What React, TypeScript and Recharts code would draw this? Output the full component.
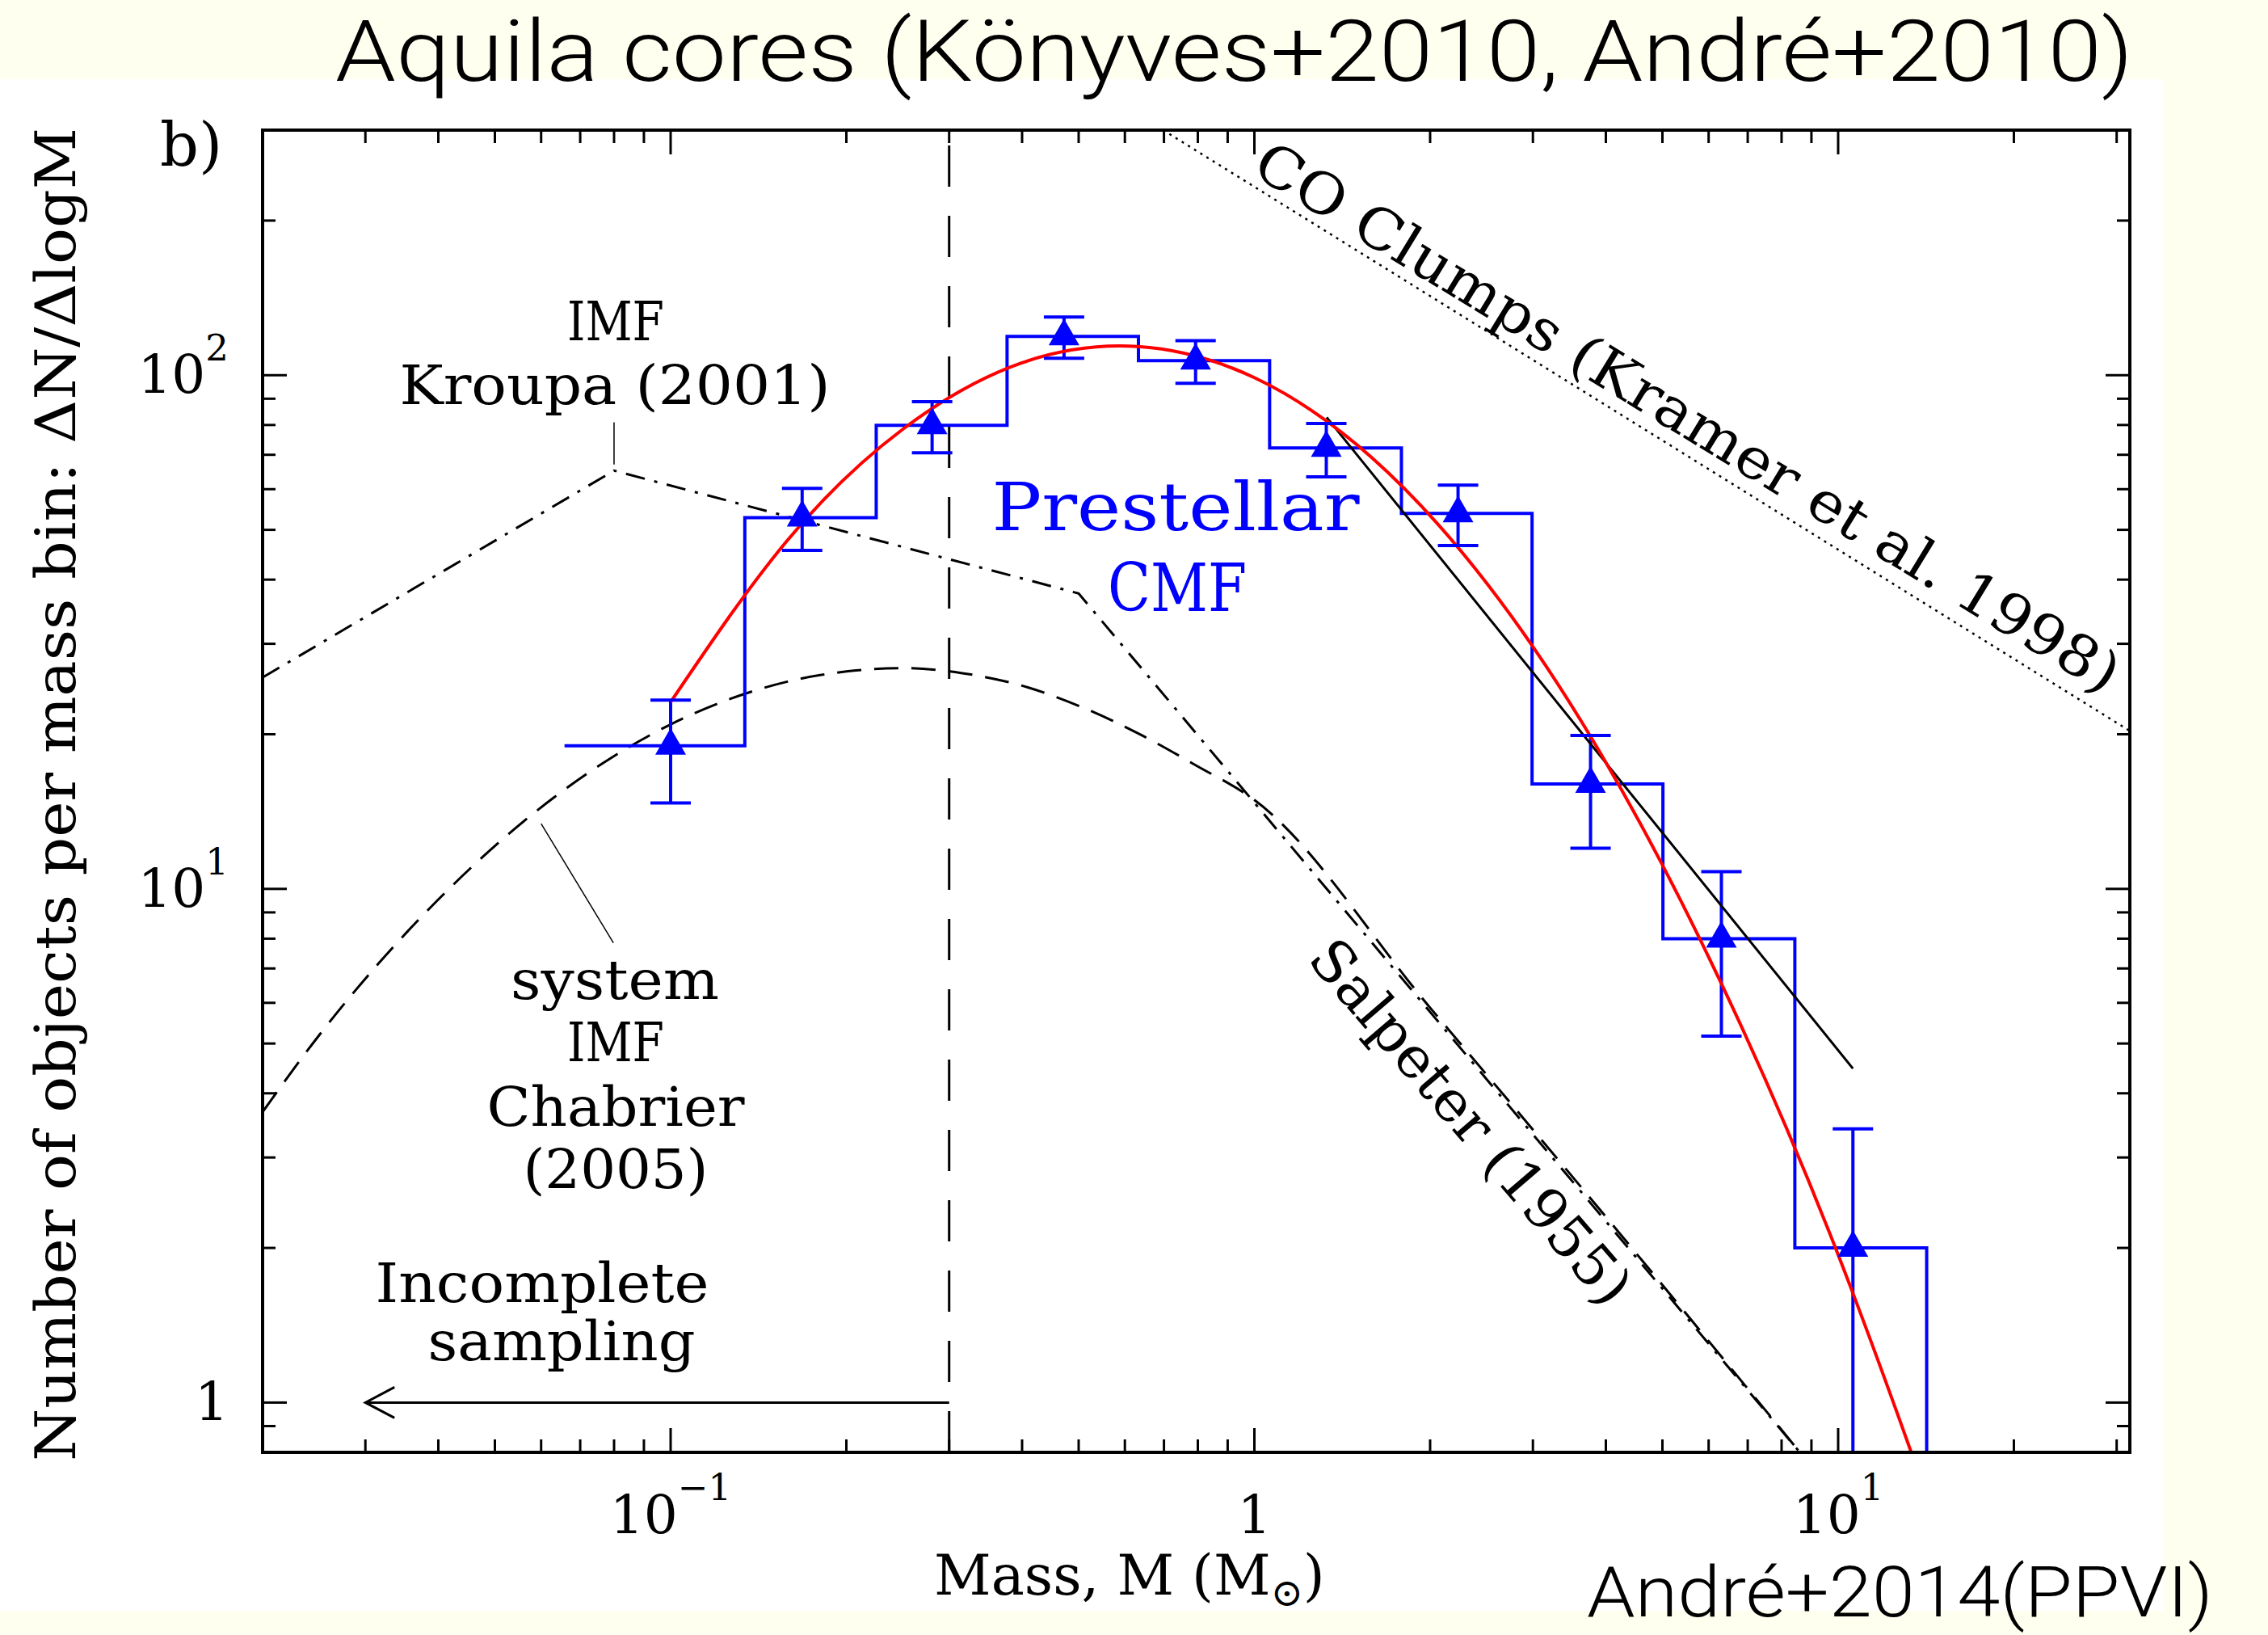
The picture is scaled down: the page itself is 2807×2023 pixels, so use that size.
import React from 'react';
import { ComposedChart, Line, Scatter, XAxis, YAxis, ReferenceLine } from 'recharts';

const W = 2807;
const H = 2023;
const SERIF = '"DejaVu Serif", serif';
const SANS = 'Roboto, "Liberation Sans", sans-serif';

// axis ticks
const xMajor = [0.1, 1, 10];
const xMinor = [0.03, 0.04, 0.05, 0.06, 0.07, 0.08, 0.09, 0.2, 0.3, 0.4, 0.5, 0.6, 0.7, 0.8, 0.9, 2, 3, 4, 5, 6, 7, 8, 9, 20, 30];
const yMajor = [1, 10, 100];
const yMinor = [0.9, 2, 3, 4, 5, 6, 7, 8, 9, 20, 30, 40, 50, 60, 70, 80, 90, 200];
const xTickLabels: Record<string, [string, string]> = { '0.1': ['10', '\u22121'], '1': ['1', ''], '10': ['10', '1'] };
const yTickLabels: Record<string, [string, string]> = { '1': ['1', ''], '10': ['10', '1'], '100': ['10', '2'] };

// prestellar CMF histogram
const binEdges = [0.0658, 0.134, 0.225, 0.377, 0.633, 1.062, 1.786, 2.99, 5.01, 8.43, 14.18, 21.4];
const binValues = [19.0, 52.8, 79.9, 119, 106.7, 72.2, 53.8, 16.0, 8.0, 2.0, 0.8];

// triangles with error bars
const coreMass = [0.1, 0.168, 0.2805, 0.472, 0.793, 1.328, 2.233, 3.766, 6.31, 10.6];
const coreValue = [19.0, 52.8, 79.9, 119, 106.7, 72.2, 53.8, 16.0, 8.0, 2.0];
const errLow = [14.7, 45.6, 70.6, 107.9, 96.4, 63.4, 46.6, 12.0, 5.17, 0.5];
const errHigh = [23.3, 60.2, 88.8, 129.8, 116.8, 80.5, 61.1, 19.9, 10.8, 3.41];

// lognormal fit (red)
const fitMass = [0.1, 0.158, 0.251, 0.398, 0.631, 1, 1.585, 2.512, 3.981, 6.31, 10, 15.85];
const fitValue = [23.1, 47.5, 78.8, 105.5, 113.7, 98.9, 69.3, 39.1, 17.8, 6.54, 1.94, 0.46];

// power-law fit (black)
const plMass = [1.33, 10.6];
const plValue = [82.8, 4.47];

// CO clumps (Kramer et al. 1998)
const coMass = [0.698, 31.6];
const coValue = [300, 20.3];

// Kroupa (2001) IMF
const kroupaMass = [0.02, 0.08, 0.5, 8.6];
const kroupaValue = [25.8, 65.2, 37.6, 0.8];

// Chabrier (2005) system IMF
const chabMass = [0.02, 0.0251, 0.0316, 0.0398, 0.0501, 0.0631, 0.0794, 0.1, 0.126, 0.158, 0.2, 0.251, 0.316, 0.398, 0.501, 0.631, 0.794, 1, 2, 4, 8.6];
const chabValue = [3.68, 5.22, 7.16, 9.48, 12.15, 15.06, 18.04, 20.9, 23.4, 25.3, 26.5, 26.9, 26.3, 24.9, 22.7, 20.1, 17.4, 14.9, 5.87, 2.3, 0.8];

// label pointers and completeness limit
const kroupaPtrMass = [0.08, 0.08];
const kroupaPtrValue = [67, 81];
const chabPtrMass = [0.06, 0.0798];
const chabPtrValue = [13.4, 7.85];
const arrowMass = [0.03, 0.3];
const arrowValue = [1, 1];
const completeness = 0.3;

const pts = (ms: number[], vs: number[]) => ms.map((m, i) => ({ m, v: vs[i] }));

const histData = [
  ...binValues.map((v, i) => ({ m: binEdges[i], v })),
  { m: binEdges[binEdges.length - 1], v: binValues[binValues.length - 1] },
];
const coreData = pts(coreMass, coreValue);
const errData = coreMass.map((m, i) => [
  { m, v: errLow[i] },
  { m, v: errHigh[i] },
]);

function BottomTick({ x, y, payload }: any) {
  const v = payload.value;
  const major = xMajor.includes(v);
  const lab = xTickLabels[String(v)];
  return (
    <g>
      <line x1={x} y1={y} x2={x} y2={y - (major ? 30 : 16)} stroke="#000" strokeWidth={3} />
      {lab && (
        <text x={x} y={y + 100} textAnchor="middle" fontFamily={SERIF} fontSize={66} fill="#000">
          {lab[0]}
          {lab[1] && <tspan dy={-41} fontSize={45}>{lab[1]}</tspan>}
        </text>
      )}
    </g>
  );
}

function TopTick({ x, y, payload }: any) {
  const major = xMajor.includes(payload.value);
  return <line x1={x} y1={y} x2={x} y2={y + (major ? 30 : 16)} stroke="#000" strokeWidth={3} />;
}

function LeftTick({ x, y, payload }: any) {
  const v = payload.value;
  const major = yMajor.includes(v);
  const lab = yTickLabels[String(v)];
  return (
    <g>
      <line x1={x} y1={y} x2={x + (major ? 30 : 16)} y2={y} stroke="#000" strokeWidth={3} />
      {lab && (
        <text x={x - 42} y={y + 22} textAnchor="end" fontFamily={SERIF} fontSize={66} fill="#000">
          {lab[0]}
          {lab[1] && <tspan dy={-40} fontSize={45}>{lab[1]}</tspan>}
        </text>
      )}
    </g>
  );
}

function RightTick({ x, y, payload }: any) {
  const major = yMajor.includes(payload.value);
  return <line x1={x} y1={y} x2={x - (major ? 30 : 16)} y2={y} stroke="#000" strokeWidth={3} />;
}

const Triangle = ({ cx, cy }: any) => (
  <polygon points={`${cx},${cy - 22} ${cx - 19},${cy + 11} ${cx + 19},${cy + 11}`} fill="#0000ff" />
);

const Cap = (p: any) => (
  <line key={`cap${p.index}`} x1={p.cx - 25} x2={p.cx + 25} y1={p.cy} y2={p.cy} stroke="#0000ff" strokeWidth={4} />
);

const ArrowHead = (p: any) =>
  p.index === 0 ? (
    <path key="head" d={`M${p.cx + 36},${p.cy - 19} L${p.cx},${p.cy} L${p.cx + 36},${p.cy + 19}`} fill="none" stroke="#000" strokeWidth={3} />
  ) : (
    <g key={`n${p.index}`} />
  );

const T = ({ x, y, size = 67, color = '#000', anchor = 'middle', len, children, ...rest }: any) => (
  <text x={x} y={y} fontFamily={SERIF} fontSize={size} fill={color} textAnchor={anchor}
    {...(len ? { textLength: len, lengthAdjust: 'spacingAndGlyphs' } : {})} {...rest}>
    {children}
  </text>
);

export default function App() {
  const axisLine = { stroke: '#000', strokeWidth: 4, strokeLinecap: 'square' as const };
  return (
    <div style={{ position: 'absolute', left: 0, top: 0, width: W, height: H, background: '#fffff0', overflow: 'hidden' }}>
      <div style={{ position: 'absolute', left: 0, top: 98, width: 2677, height: 1895, background: '#ffffff' }} />
      <div style={{ position: 'absolute', left: 0, top: 0 }}>
        <ComposedChart width={W} height={H} margin={{ left: 225, right: 151, top: 141, bottom: 126 }}>
          <XAxis xAxisId={0} type="number" dataKey="m" scale="log" domain={[0.02, 31.6]} allowDataOverflow
            ticks={[...xMajor, ...xMinor]} interval={0} tick={<BottomTick />} tickLine={false} tickSize={0} tickMargin={0}
            axisLine={axisLine} height={100} />
          <XAxis xAxisId="top" orientation="top" type="number" dataKey="m" scale="log" domain={[0.02, 31.6]} allowDataOverflow
            ticks={[...xMajor, ...xMinor]} interval={0} tick={<TopTick />} tickLine={false} tickSize={0} tickMargin={0}
            axisLine={axisLine} height={20} />
          <YAxis yAxisId={0} type="number" dataKey="v" scale="log" domain={[0.8, 300]} allowDataOverflow
            ticks={[...yMajor, ...yMinor]} interval={0} tick={<LeftTick />} tickLine={false} tickSize={0} tickMargin={0}
            axisLine={axisLine} width={100} />
          <YAxis yAxisId="right" orientation="right" type="number" dataKey="v" scale="log" domain={[0.8, 300]} allowDataOverflow
            ticks={[...yMajor, ...yMinor]} interval={0} tick={<RightTick />} tickLine={false} tickSize={0} tickMargin={0}
            axisLine={axisLine} width={20} />

          <ReferenceLine x={completeness} stroke="#000" strokeWidth={3} strokeDasharray="51 36" ifOverflow="hidden" />

          <Line data={pts(kroupaMass, kroupaValue)} dataKey="v" type="linear" stroke="#000" strokeWidth={3}
            strokeDasharray="24 12 4 12" dot={false} activeDot={false} isAnimationActive={false} />
          <Line data={pts(chabMass, chabValue)} dataKey="v" type="monotone" stroke="#000" strokeWidth={3}
            strokeDasharray="30 16" dot={false} activeDot={false} isAnimationActive={false} />
          <Line data={pts(coMass, coValue)} dataKey="v" type="linear" stroke="#000" strokeWidth={2.5}
            strokeDasharray="3 6" dot={false} activeDot={false} isAnimationActive={false} />
          <Line data={pts(kroupaPtrMass, kroupaPtrValue)} dataKey="v" type="linear" stroke="#000" strokeWidth={1.5}
            dot={false} activeDot={false} isAnimationActive={false} />
          <Line data={pts(chabPtrMass, chabPtrValue)} dataKey="v" type="linear" stroke="#000" strokeWidth={1.5}
            dot={false} activeDot={false} isAnimationActive={false} />
          <Line data={pts(arrowMass, arrowValue)} dataKey="v" type="linear" stroke="#000" strokeWidth={3}
            dot={ArrowHead} activeDot={false} isAnimationActive={false} />

          <Line data={histData} dataKey="v" type="stepAfter" stroke="#0000ff" strokeWidth={4}
            dot={false} activeDot={false} isAnimationActive={false} />
          {errData.map((d, i) => (
            <Line key={`err${i}`} data={d} dataKey="v" type="linear" stroke="#0000ff" strokeWidth={4}
              dot={Cap} activeDot={false} isAnimationActive={false} />
          ))}
          <Scatter data={coreData} dataKey="v" shape={<Triangle />} isAnimationActive={false} />

          <Line data={pts(plMass, plValue)} dataKey="v" type="linear" stroke="#000" strokeWidth={3}
            dot={false} activeDot={false} isAnimationActive={false} />
          <Line data={pts(fitMass, fitValue)} dataKey="v" type="natural" stroke="#ff0000" strokeWidth={4}
            dot={false} activeDot={false} isAnimationActive={false} />
        </ComposedChart>
      </div>
      <svg width={W} height={H} style={{ position: 'absolute', left: 0, top: 0, pointerEvents: 'none' }}>
        <text x={415} y={100} fontFamily={SANS} fontWeight={300} fontSize={105} textLength={2225} lengthAdjust="spacingAndGlyphs">
          Aquila cores (Könyves+2010, André+2010)
        </text>
        <text x={1964} y={2000} fontFamily={SANS} fontWeight={300} fontSize={88} textLength={775} lengthAdjust="spacingAndGlyphs">
          André+2014(PPVI)
        </text>
        <T x={198} y={205} size={75} anchor="start">b)</T>
        <T x={93} y={1808} size={69} anchor="start" transform="rotate(-90 93 1808)" len={1650}>
          Number of objects per mass bin: ΔN/ΔlogM
        </T>
        <T x={1156} y={1973} size={69} anchor="start">
          Mass, M (M<tspan dy={14} fontSize={48}>⊙</tspan><tspan dy={-14}>)</tspan>
        </T>

        <T x={762} y={421} len={120}>IMF</T>
        <T x={761} y={500} len={533}>Kroupa (2001)</T>
        <T x={761} y={1236} len={258}>system</T>
        <T x={762} y={1313} len={120}>IMF</T>
        <T x={762} y={1393} len={319}>Chabrier</T>
        <T x={762} y={1470} len={229}>(2005)</T>
        <T x={671} y={1611} len={413}>Incomplete</T>
        <T x={695} y={1683} len={331}>sampling</T>
        <T x={1455} y={656} size={82} color="#0000ff" len={455}>Prestellar</T>
        <T x={1457} y={756} size={82} color="#0000ff" len={172}>CMF</T>
        <T x={2076} y={537} size={70} transform="rotate(31.4 2076 537)" len={1240}>
          CO Clumps (Kramer et al. 1998)
        </T>
        <T x={1802} y={1404} size={70} transform="rotate(49.4 1802 1404)" len={570}>
          Salpeter (1955)
        </T>
      </svg>
    </div>
  );
}
